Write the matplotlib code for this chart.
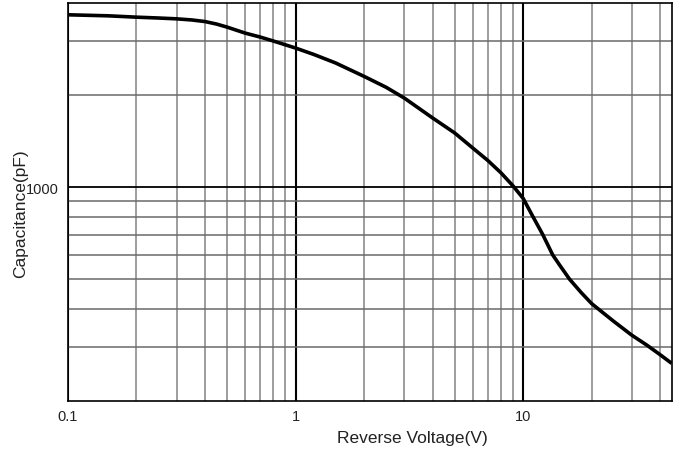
import matplotlib
matplotlib.use("Agg")
import matplotlib.pyplot as plt
from matplotlib.ticker import FixedLocator, FixedFormatter, NullFormatter

plt.rcParams['font.family'] = ['Liberation Sans', 'DejaVu Sans']

voltage = [0.1, 0.15, 0.2, 0.25, 0.3, 0.35, 0.4, 0.45, 0.5, 0.6, 0.7, 0.8, 0.9, 1.0, 1.2,
           1.5, 2, 2.5, 3, 4, 5, 6, 7, 8, 9, 10, 11, 12.2, 13.5, 14.5, 16, 18, 20, 25, 30,
           35, 40, 45]
capacitance = [3668, 3640, 3603, 3580, 3558, 3528, 3486, 3420, 3343, 3196, 3101, 3009,
               2927, 2855, 2722, 2551, 2306, 2124, 1960, 1686, 1506, 1345, 1223, 1114,
               1013, 920, 806, 700, 600, 555, 500, 452, 416, 364, 328, 304, 283, 265]

x_major = [0.1, 1, 10]
x_major_labels = ["0.1", "1", "10"]
x_minor = [0.2, 0.3, 0.4, 0.5, 0.6, 0.7, 0.8, 0.9, 2, 3, 4, 5, 6, 7, 8, 9, 20, 30, 40]
y_major = [1000]
y_major_labels = ["1000"]
y_minor = [300, 400, 500, 600, 700, 800, 900, 2000, 3000]

fig = plt.figure(figsize=(6.8, 4.52), dpi=100)
ax = fig.add_axes([68 / 680, 1 - 401.7 / 452, (671.7 - 68) / 680, (401.7 - 4.3) / 452])
ax.set_xscale('log')
ax.set_yscale('log')
ax.set_xlim(0.1, 45)
ax.set_ylim(200, 4000)

ax.xaxis.set_major_locator(FixedLocator(x_major))
ax.xaxis.set_major_formatter(FixedFormatter(x_major_labels))
ax.xaxis.set_minor_locator(FixedLocator(x_minor))
ax.xaxis.set_minor_formatter(NullFormatter())
ax.yaxis.set_major_locator(FixedLocator(y_major))
ax.yaxis.set_major_formatter(FixedFormatter(y_major_labels))
ax.yaxis.set_minor_locator(FixedLocator(y_minor))
ax.yaxis.set_minor_formatter(NullFormatter())

ax.tick_params(which='both', length=0)
ax.tick_params(axis='x', which='major', pad=6, labelsize=10.5, colors='#222222')
ax.tick_params(axis='y', which='major', pad=7, labelsize=10.5, colors='#222222')

ax.xaxis.grid(True, which='major', color='black', linewidth=1.5)
ax.xaxis.grid(True, which='minor', color='#8c8c8c', linewidth=1.2)
ax.yaxis.grid(True, which='major', color='black', linewidth=1.3)
ax.yaxis.grid(True, which='minor', color='#6a6a6a', linewidth=1.1)
ax.set_axisbelow(True)

for s in ax.spines.values():
    s.set_color('black')
    s.set_linewidth(1.2)

ax.plot(voltage, capacitance, color='black', linewidth=2.6, solid_capstyle='butt',
        solid_joinstyle='round')

fig.text(412.5 / 680, 1 - 443.3 / 452, "Reverse Voltage(V)", ha='center', va='baseline',
         fontsize=12.5, color='#222222')
fig.text(25 / 680, 1 - 213.5 / 452, "Capacitance(pF)", ha='center', va='baseline',
         rotation=90, rotation_mode='anchor', fontsize=12.5, color='#222222')

fig.savefig("out.png", dpi=100)
